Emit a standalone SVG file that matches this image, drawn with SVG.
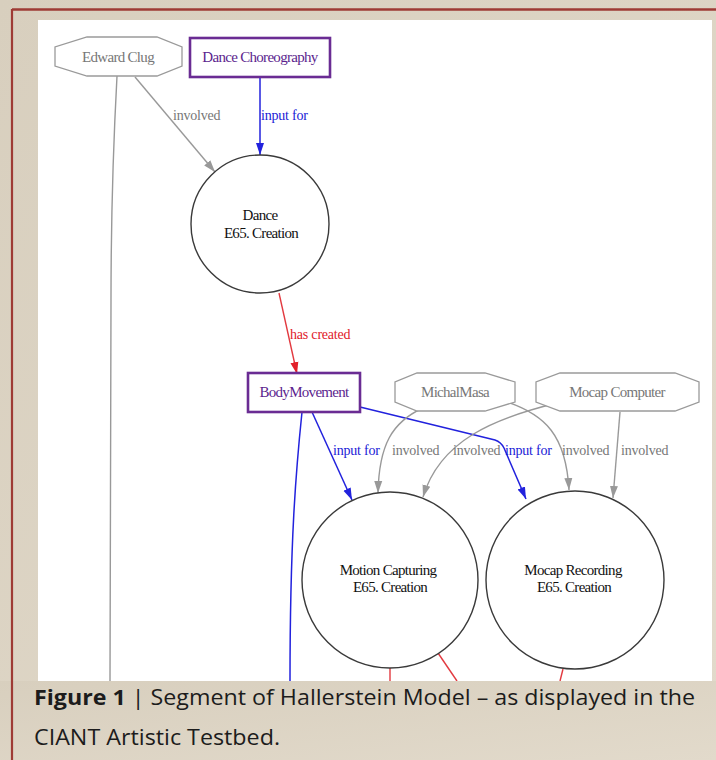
<svg xmlns="http://www.w3.org/2000/svg" width="716" height="760" viewBox="0 0 716 760">
<style>
.nl{font-family:"Liberation Serif",serif;font-size:15px;letter-spacing:-0.7px;text-anchor:middle}
.el{font-family:"Liberation Serif",serif;font-size:14px;letter-spacing:-0.2px}
.gray{fill:#777}
.blue{fill:#1a1ad6}
.red{fill:#e0202a}
.purp{fill:#5c1f8e}
.blk{fill:#111}
.oct{fill:#fff;stroke:#9a9a9a;stroke-width:1.3}
.box{fill:#fff;stroke:#6a2c93;stroke-width:2.6}
.circ{fill:#fff;stroke:#3a3a3a;stroke-width:1.4}
.eg{fill:none;stroke:#999;stroke-width:1.4}
.eb{fill:none;stroke:#2222dd;stroke-width:1.5}
.er{fill:none;stroke:#e23a40;stroke-width:1.4}
.cap{font-family:"Open Sans",Lato,sans-serif;font-size:21.5px;fill:#1c1c1c}
</style>
<defs>
<linearGradient id="bg" x1="0" y1="0" x2="1" y2="1">
<stop offset="0" stop-color="#d8cfbe"/>
<stop offset="1" stop-color="#e2dacb"/>
</linearGradient>
<marker id="ag" markerWidth="13" markerHeight="10" refX="12" refY="5" orient="auto" markerUnits="userSpaceOnUse"><path d="M0,1 L12,5 L0,9 Z" fill="#999"/></marker>
<marker id="ab" markerWidth="13" markerHeight="10" refX="12" refY="5" orient="auto" markerUnits="userSpaceOnUse"><path d="M0,1 L12,5 L0,9 Z" fill="#2222dd"/></marker>
<marker id="ar" markerWidth="13" markerHeight="10" refX="12" refY="5" orient="auto" markerUnits="userSpaceOnUse"><path d="M0,1 L12,5 L0,9 Z" fill="#e2202a"/></marker>
</defs>
<rect x="0" y="0" width="716" height="760" fill="url(#bg)"/>
<line x1="12" y1="9.5" x2="716" y2="9.5" stroke="#9e3b35" stroke-width="2.6"/>
<line x1="12" y1="9" x2="12" y2="760" stroke="#9e3b35" stroke-width="2.2"/>
<rect x="38" y="20" width="674" height="661" fill="#fff"/>

<g id="connectors">
<path class="eg" d="M117,76 C113,150 111,220 111,300 L110,681"/>
<path class="eg" d="M135,77 L215,172" marker-end="url(#ag)"/>
<path class="eb" d="M260,77 L260,155" marker-end="url(#ab)"/>
<path class="er" d="M279,293 L297,374" marker-end="url(#ar)"/>
<path class="eb" d="M302,412 C296,470 290,540 290,681"/>
<path class="eb" d="M312,412 L352,500" marker-end="url(#ab)"/>
<path class="eb" d="M360,407 L495,440 Q501,442 504,448 L526,499" marker-end="url(#ab)"/>
<path class="eg" d="M423,408 C392,422 379,445 378,493" marker-end="url(#ag)"/>
<path class="eg" d="M557,403 C495,418 440,440 423,497" marker-end="url(#ag)"/>
<path class="eg" d="M507,402 C545,415 566,435 569,490" marker-end="url(#ag)"/>
<path class="eg" d="M620,412 L613,498" marker-end="url(#ag)"/>
<path class="er" d="M390,668 L390,681"/>
<path class="er" d="M438,653 L457,681"/>
<path class="er" d="M563,669 L560,681"/>
<text class="el gray" x="173" y="120">involved</text>
<text class="el blue" x="261" y="120">input for</text>
<text class="el red" x="290" y="339" font-size="15">has created</text>
<text class="el blue" x="333" y="455">input for</text>
<text class="el gray" x="392" y="455">involved</text>
<text class="el gray" x="453" y="455">involved</text>
<text class="el blue" x="505" y="455">input for</text>
<text class="el gray" x="562" y="455">involved</text>
<text class="el gray" x="621" y="455">involved</text>
</g>

<g id="edward-clug">
<polygon class="oct" points="87,37 157,37 182,47 182,66 157,76 87,76 55,66 55,47"/>
<text class="nl gray" x="118" y="62">Edward Clug</text>
</g>
<g id="dance-choreography">
<rect class="box" x="190" y="38" width="140" height="39"/>
<text class="nl purp" x="260" y="62">Dance Choreography</text>
</g>
<g id="dance">
<circle class="circ" cx="260" cy="224" r="69"/>
<text class="nl blk" x="260" y="220">Dance</text>
<text class="nl blk" x="261" y="238">E65. Creation</text>
</g>
<g id="body-movement">
<rect class="box" x="248" y="373" width="112" height="39"/>
<text class="nl purp" x="304" y="397">BodyMovement</text>
</g>
<g id="michal-masa">
<polygon class="oct" points="417,373 485,373 515,382 515,402 485,411 417,411 395,402 395,382"/>
<text class="nl gray" x="455" y="397">MichalMasa</text>
</g>
<g id="mocap-computer">
<polygon class="oct" points="560,373 675,373 699,382 699,402 675,411 560,411 536,402 536,382"/>
<text class="nl gray" x="617" y="397">Mocap Computer</text>
</g>
<g id="motion-capturing">
<circle class="circ" cx="390" cy="580" r="88"/>
<text class="nl blk" x="388" y="575">Motion Capturing</text>
<text class="nl blk" x="390" y="592">E65. Creation</text>
</g>
<g id="mocap-recording">
<circle class="circ" cx="575" cy="580" r="89"/>
<text class="nl blk" x="573" y="575">Mocap Recording</text>
<text class="nl blk" x="574" y="592">E65. Creation</text>
</g>

<rect x="0" y="681" width="716" height="79" fill="url(#bg)"/>
<line x1="12" y1="681" x2="12" y2="760" stroke="#9e3b35" stroke-width="2.2"/>
<text class="cap" x="34" y="705" textLength="661" lengthAdjust="spacingAndGlyphs"><tspan font-weight="bold">Figure 1</tspan> | Segment of Hallerstein Model – as displayed in the</text>
<text class="cap" x="34" y="745" textLength="246" lengthAdjust="spacingAndGlyphs">CIANT Artistic Testbed.</text>
</svg>
